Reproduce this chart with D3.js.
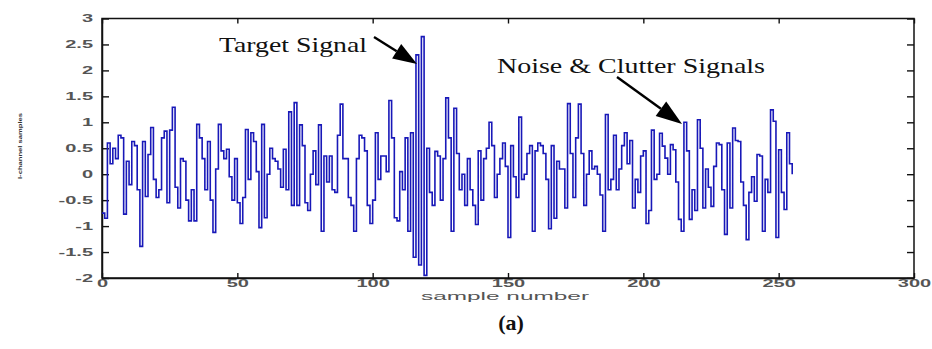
<!DOCTYPE html>
<html>
<head>
<meta charset="utf-8">
<script src="https://cdn.jsdelivr.net/npm/d3@7"></script>
<style>
  body { margin: 0; background: #fff; }
  svg { display: block; }
</style>
</head>
<body>
<svg id="chart" width="932" height="349"></svg>
<script>
// Received signal, one value per sample (0 .. 255)
const signal = [
  -0.75, -0.85, 0.6, 0.2, 0.5, 0.3, 0.75, 0.7, -0.77, 0.25,
  -0.2, 0.63, 0.55, -0.3, -1.39, 0.63, -0.43, 0.38, 0.9, -0.1,
  -0.45, -0.3, 0.7, 0.83, -0.55, 0.85, 1.29, -0.25, -0.65, 0.3,
  0.25, -0.5, -0.9, -0.3, -0.9, 0.96, 0.7, 0.3, -0.3, 0.63,
  -0.5, -1.12, 0.1, 0.96, 0.45, 0.3, 0.48, -0.05, -0.5, 0.3,
  -0.55, -0.95,
  -0.45, 0.86, -0.1, 0.8, 0.63, 0.05, -1.03, 0.96, -0.84, 0.0,
  0.5, 0.3, 0.25, 0.1, -0.25, 0.48, -0.3, 1.2, -0.6, 1.38,
  -0.6, 0.95, 0.55, -0.55, -0.7, 0.0, 0.45, -0.2, 0.95, -1.1,
  0.35, -0.15, 0.35, -0.3, -0.35, 0.75, 1.35, 0.3, 0.3, -0.45,
  -0.6,
  -1.1, 0.3, 0.75, 0.7, 0.45, -0.6, -0.95, -0.5, 0.8, -0.1,
  0.35, 0.35, 0.05, 1.42, 0.7, -0.84, -0.9, 0.05, -0.3, 0.7,
  -1.1, 0.8, -1.6, 2.3, -1.75, 2.65, -1.95, 0.5, -0.35, -0.6,
  0.44, 0.35, -0.5, 0.3, 1.47, 0.7, -1.1, 1.27, 0.4, -0.3,
  0.0, -0.6, 0.3, -0.3, -0.6, -0.97, 0.45, -0.5, 0.3, 0.5,
  1.0, 0.55, -0.45, 0.0, 0.3, 0.6, 0.15, -1.22, 0.55,
  -0.05, -0.45, 1.1, -0.1, 0.0, 0.4, 0.55, -1.1, 0.45, 0.6,
  0.55, 0.4, -0.1, -1.05, 0.55, -0.85, 0.25, 0.1, 0.1, -0.65,
  1.36, 0.4, -0.45, 0.7, 1.35, 0.4, -0.6, 0.0, 0.45, 0.1,
  0.15, 0.0, -0.4, -1.1, 1.15, -0.3, -0.1, 0.75, -0.3, 0.1,
  0.55, 0.8, 0.2, 0.65, -0.65, -0.1, -0.35, 0.35, 0.45, -0.95,
  -0.7, 0.85, -0.1, 0.0, 0.79, 0.54, 0.31, 0.0, 0.57, 0.47,
  -0.15, -0.87, -1.1, 1.0,
  0.45, -0.87, -0.3, -0.7, 1.05, 0.5, -0.65, 0.1, -0.25, -0.62,
  0.15, 0.6, 0.57, -0.3, -1.16, 0.6, -0.65, 0.89, 0.65, 0.63,
  -0.15, -0.6, -1.26, -0.35, -0.05, -0.52, 0.38, 0.35, -1.1, -0.1,
  -0.35, 1.24, 1.02, -1.22, 0.47, -0.35, -0.68, 0.8, 0.2, 0.0
];

const xTicks = [0, 50, 100, 150, 200, 250, 300];
const yTicks = [-2, -1.5, -1, -0.5, 0, 0.5, 1, 1.5, 2, 2.5, 3];
const xTitle = "sample number";
const yTitle = "I-channel samples";
const caption = "(a)";
const targetNote = "Target Signal";
const clutterNote = "Noise & Clutter Signals";

const svg = d3.select("#chart");
const box = { left: 102, right: 914, top: 18.5, bottom: 278 };

const x = d3.scaleLinear().domain([0, 300]).range([box.left, box.right]);
const y = d3.scaleLinear().domain([-2, 3]).range([box.bottom, box.top]);

// The figure is drawn stretched sideways, so axis text is widened to suit
const stretch = 2.0;
const tickFont = "'Liberation Sans', Arial, sans-serif";

// Frame
svg.append("rect")
  .attr("x", box.left).attr("y", box.top)
  .attr("width", box.right - box.left).attr("height", box.bottom - box.top)
  .attr("fill", "none").attr("stroke", "#111").attr("stroke-width", 1.5);

// Bottom axis with inward ticks
const gx = svg.append("g").attr("transform", `translate(0,${box.bottom})`)
  .call(d3.axisBottom(x).tickValues(xTicks).tickSizeInner(-5).tickSizeOuter(0).tickPadding(4)
    .tickFormat(d3.format("d")));
gx.select(".domain").attr("stroke", "#111").attr("stroke-width", 1.5);
gx.selectAll(".tick line").attr("stroke", "#111").attr("stroke-width", 1.4);
gx.selectAll(".tick text")
  .attr("font-family", tickFont).attr("font-size", 10).attr("font-weight", "bold").attr("fill", "#555")
  .attr("y", 2)
  .attr("transform", `scale(${stretch},1)`);

// Mirrored ticks on top
const gt = svg.append("g").attr("transform", `translate(0,${box.top})`)
  .call(d3.axisTop(x).tickValues(xTicks).tickSizeInner(-5).tickSizeOuter(0).tickFormat(""));
gt.select(".domain").remove();
gt.selectAll(".tick line").attr("stroke", "#111").attr("stroke-width", 1.4);

// Left axis with inward ticks
const gy = svg.append("g").attr("transform", `translate(${box.left},0)`)
  .call(d3.axisLeft(y).tickValues(yTicks).tickSizeInner(-7).tickSizeOuter(0)
    .tickFormat(d => String(d)));
gy.select(".domain").attr("stroke", "#111").attr("stroke-width", 1.5);
gy.selectAll(".tick line").attr("stroke", "#111").attr("stroke-width", 1.4);
gy.selectAll(".tick text")
  .attr("font-family", tickFont).attr("font-size", 10).attr("font-weight", "bold").attr("fill", "#555")
  .attr("x", -9 / stretch)
  .attr("transform", `scale(${stretch},1)`);

// Mirrored ticks on the right
const gr = svg.append("g").attr("transform", `translate(${box.right},0)`)
  .call(d3.axisRight(y).tickValues(yTicks).tickSizeInner(-7).tickSizeOuter(0).tickFormat(""));
gr.select(".domain").remove();
gr.selectAll(".tick line").attr("stroke", "#111").attr("stroke-width", 1.4);

// Signal trace as a stair plot
const stairs = d3.line()
  .x((d, i) => x(i))
  .y(d => y(d))
  .curve(d3.curveStepAfter);

svg.append("path")
  .datum(signal)
  .attr("d", stairs)
  .attr("fill", "none")
  .attr("stroke", "#1818b8")
  .attr("stroke-width", 1.6);

// Axis titles
svg.append("text")
  .attr("x", 505).attr("y", 300)
  .attr("text-anchor", "middle")
  .attr("font-family", tickFont).attr("font-size", 10).attr("fill", "#555")
  .attr("textLength", 168).attr("lengthAdjust", "spacingAndGlyphs")
  .text(xTitle);

svg.append("text")
  .attr("transform", "translate(22,146) rotate(-90)")
  .attr("text-anchor", "middle")
  .attr("font-family", tickFont).attr("font-size", 6).attr("font-weight", "bold").attr("fill", "#333")
  .attr("textLength", 66).attr("lengthAdjust", "spacingAndGlyphs")
  .text(yTitle);

// Annotations
const serif = "'Liberation Serif', 'Times New Roman', serif";
svg.append("text")
  .attr("x", 219).attr("y", 52)
  .attr("font-family", serif).attr("font-size", 22).attr("fill", "#111")
  .attr("textLength", 148).attr("lengthAdjust", "spacingAndGlyphs")
  .text(targetNote);

svg.append("text")
  .attr("x", 497).attr("y", 73)
  .attr("font-family", serif).attr("font-size", 22).attr("fill", "#111")
  .attr("textLength", 268).attr("lengthAdjust", "spacingAndGlyphs")
  .text(clutterNote);

function arrow(x1, y1, x2, y2, headLen, headWidth) {
  const a = Math.atan2(y2 - y1, x2 - x1);
  const bx = x2 - headLen * Math.cos(a), by = y2 - headLen * Math.sin(a);
  const nx = -Math.sin(a) * headWidth / 2, ny = Math.cos(a) * headWidth / 2;
  svg.append("line")
    .attr("x1", x1).attr("y1", y1).attr("x2", bx).attr("y2", by)
    .attr("stroke", "#000").attr("stroke-width", 2.4);
  svg.append("path")
    .attr("d", `M${x2},${y2}L${bx + nx},${by + ny}L${bx - nx},${by - ny}Z`)
    .attr("fill", "#000");
}
arrow(374, 37, 417, 64, 24, 17);
arrow(617, 77, 682, 124, 26, 18);

// Panel caption
svg.append("text")
  .attr("x", 511).attr("y", 330)
  .attr("text-anchor", "middle")
  .attr("font-family", serif).attr("font-size", 22).attr("font-weight", "bold").attr("fill", "#111")
  .text(caption);
</script>
</body>
</html>
